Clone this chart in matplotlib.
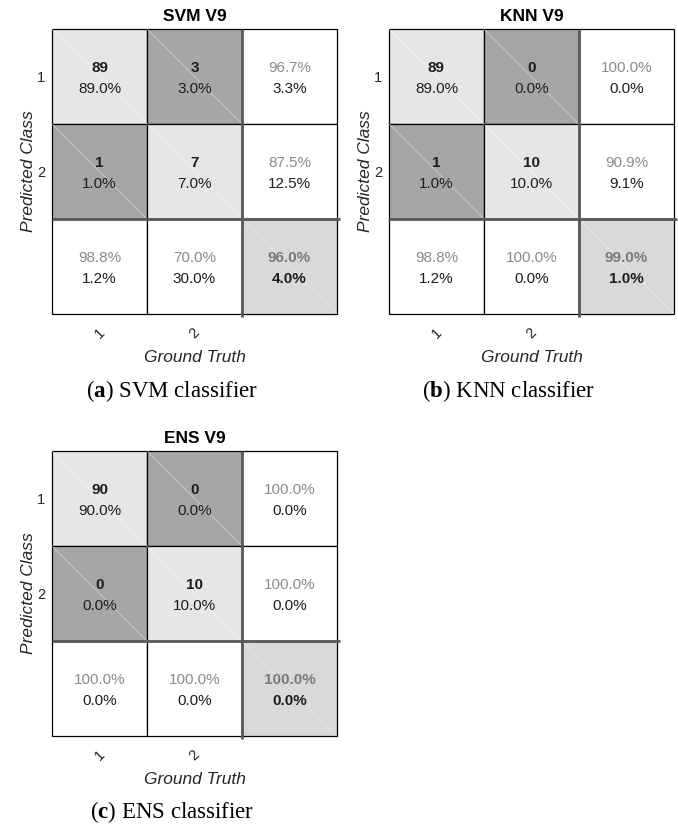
import matplotlib
matplotlib.use("Agg")
import matplotlib.pyplot as plt
from matplotlib.patches import Rectangle

plt.rcParams['font.family'] = ['Liberation Sans', 'DejaVu Sans']
plt.rcParams['mathtext.fontset'] = 'custom'
plt.rcParams['mathtext.rm'] = 'Liberation Serif'
plt.rcParams['mathtext.bf'] = 'Liberation Serif:bold'

# Class labels shared by all three classifiers
classes = ['1', '2']

# Confusion counts: rows = predicted class, columns = ground truth
svm_counts = [[89, 3], [1, 7]]
knn_counts = [[89, 0], [1, 10]]
ens_counts = [[90, 0], [0, 10]]

# Per-row summary (precision / false discovery), in percent
svm_row_summary = [(96.7, 3.3), (87.5, 12.5)]
knn_row_summary = [(100.0, 0.0), (90.9, 9.1)]
ens_row_summary = [(100.0, 0.0), (100.0, 0.0)]

# Per-column summary (recall / miss rate), in percent
svm_col_summary = [(98.8, 1.2), (70.0, 30.0)]
knn_col_summary = [(98.8, 1.2), (100.0, 0.0)]
ens_col_summary = [(100.0, 0.0), (100.0, 0.0)]

# Overall accuracy / error, in percent
svm_overall = (96.0, 4.0)
knn_overall = (99.0, 1.0)
ens_overall = (100.0, 0.0)

titles = ['SVM V9', 'KNN V9', 'ENS V9']
captions = [('a', 'SVM classifier'), ('b', 'KNN classifier'), ('c', 'ENS classifier')]

W, H = 678, 827
fig = plt.figure(figsize=(W / 100, H / 100), dpi=100)

DIAG = '#e6e6e6'
OFF = '#a6a6a6'
TOTAL = '#d9d9d9'
GRAYTXT = '#8a8a8a'
DARKTXT = '#1e1e1e'
SEP = '#595959'


def px_axes(left, top, width, height):
    return fig.add_axes([left / W, 1 - (top + height) / H, width / W, height / H])


def cell_text(ax, c, r, top, bottom, top_kw, bottom_kw):
    ax.text(c + 0.5, r + 0.41, top, ha='center', va='center', fontsize=11, **top_kw)
    ax.text(c + 0.5, r + 0.63, bottom, ha='center', va='center', fontsize=11, **bottom_kw)


def draw_confusion(ax, counts, row_sum, col_sum, overall, title):
    n = len(classes)
    total = sum(sum(row) for row in counts)
    ax.set_xlim(0, n + 1)
    ax.set_ylim(n + 1, 0)
    for r in range(n + 1):
        for c in range(n + 1):
            if r < n and c < n:
                face = DIAG if r == c else OFF
            elif r == n and c == n:
                face = TOTAL
            else:
                face = 'white'
            ax.add_patch(Rectangle((c, r), 1, 1, facecolor=face, edgecolor='black',
                                   lw=0.9, clip_on=False))
            if face != 'white':
                ax.plot([c, c + 1], [r, r + 1], color='white', lw=0.6, alpha=0.45)
    # Main cells: count and share of all samples
    for r in range(n):
        for c in range(n):
            v = counts[r][c]
            cell_text(ax, c, r, f'{v}', f'{100 * v / total:.1f}%',
                      dict(fontweight='bold', color=DARKTXT), dict(color=DARKTXT))
    # Summary column
    for r in range(n):
        good, bad = row_sum[r]
        cell_text(ax, n, r, f'{good:.1f}%', f'{bad:.1f}%',
                  dict(color=GRAYTXT), dict(color=DARKTXT))
    # Summary row
    for c in range(n):
        good, bad = col_sum[c]
        cell_text(ax, c, n, f'{good:.1f}%', f'{bad:.1f}%',
                  dict(color=GRAYTXT), dict(color=DARKTXT))
    good, bad = overall
    cell_text(ax, n, n, f'{good:.1f}%', f'{bad:.1f}%',
              dict(color='#7a7a7a', fontweight='bold'), dict(color=DARKTXT, fontweight='bold'))
    # Separators for the summary row and column
    ax.plot([0, n + 1.03], [n, n], color=SEP, lw=2.0, clip_on=False, solid_capstyle='butt')
    ax.plot([n, n], [0, n + 1.03], color=SEP, lw=2.0, clip_on=False, solid_capstyle='butt')

    for s in ax.spines.values():
        s.set_visible(False)
    ax.set_xticks([i + 0.5 for i in range(n)])
    ax.set_xticklabels(classes, rotation=45, fontsize=10.5, color='#262626')
    ax.set_yticks([i + 0.5 for i in range(n)])
    ax.set_yticklabels(classes, fontsize=10.5, color='#262626')
    ax.tick_params(axis='x', length=0, pad=8)
    ax.tick_params(axis='y', length=0, pad=5)
    ax.set_xlabel('Ground Truth', fontstyle='italic', fontsize=12.5, color='#262626', labelpad=7)
    ax.set_ylabel('Predicted Class', fontstyle='italic', fontsize=12.5, color='#262626', labelpad=1)
    ax.set_title(title, fontweight='bold', fontsize=12.5, pad=6)


panels = [
    (52, 29, svm_counts, svm_row_summary, svm_col_summary, svm_overall),
    (389, 29, knn_counts, knn_row_summary, knn_col_summary, knn_overall),
    (52, 451, ens_counts, ens_row_summary, ens_col_summary, ens_overall),
]
caption_pos = [(172, 391), (509, 391), (172, 812)]

for (left, top, counts, rs, cs, ov), title, (letter, name), (cx, cy) in zip(
        panels, titles, captions, caption_pos):
    ax = px_axes(left, top, 285, 285)
    draw_confusion(ax, counts, rs, cs, ov, title)
    fig.text(cx / W, 1 - cy / H, rf'($\mathbf{{{letter}}}$) {name}', ha='center', va='center',
             fontsize=16.5, family='Liberation Serif')

fig.savefig('out.png', dpi=100)
